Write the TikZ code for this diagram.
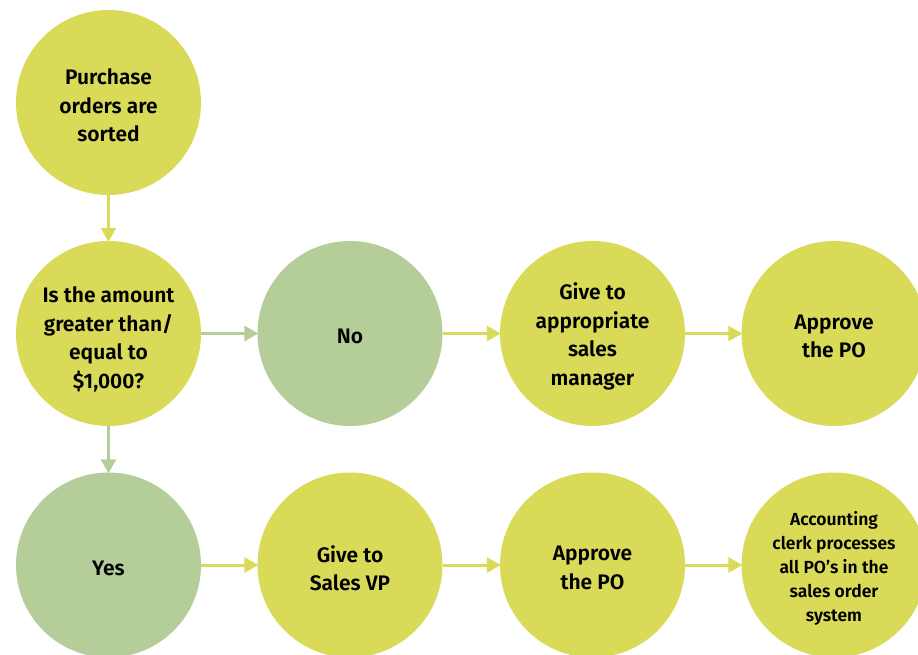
\documentclass[tikz,border=0pt]{standalone}
\usepackage{fontspec}
\setmainfont{Fira Sans}[UprightFont=* SemiBold]
\usetikzlibrary{arrows.meta}
\definecolor{cyel}{HTML}{D9DA57}
\definecolor{cgrn}{HTML}{B5CD99}
\tikzset{
  bub/.style={circle, minimum size=185pt, inner sep=0pt},
  ybub/.style={bub, fill=cyel},
  gbub/.style={bub, fill=cgrn},
  txt/.style={align=center, font=\fontsize{21}{28.5}\selectfont, text=black, yshift=-3pt},
  arr/.style={line width=3pt, -{Triangle[length=14pt,width=15pt]}, shorten >=-1pt},
  yarr/.style={arr, draw=cyel, cyel},
  garr/.style={arr, draw=cgrn, cgrn}
}
\begin{document}
\begin{tikzpicture}[x=1pt,y=-1pt]
\useasboundingbox (0,0) rectangle (918,655);
\begin{scope}
\clip (0,0) rectangle (918,655);
\node[ybub] (ps) at (108.5,102.5) {};
\node[ybub] (q) at (108.5,333.5) {};
\node[gbub] (no) at (350,333.5) {};
\node[ybub] (gm) at (592.5,333.5) {};
\node[ybub] (a1) at (834,333.5) {};
\node[gbub] (yes) at (108.5,565) {};
\node[ybub] (gv) at (350,565) {};
\node[ybub] (a2) at (592.5,565) {};
\node[ybub] (ac) at (834,565) {};
\end{scope}
\node[txt] (pst) at (ps) {Purchase\\orders are\\sorted};
\node[txt, yshift=-3pt] (qt) at (q) {Is the amount\\greater than/\\equal to\\\$1,000?};
\node[txt] (not) at (no) {No};
\node[txt] (gmt) at (gm) {Give to\\appropriate\\sales\\manager};
\node[txt] (a1t) at (a1) {Approve\\the PO};
\node[txt] (yest) at (yes) {Yes};
\node[txt] (gvt) at (gv) {Give to\\Sales VP};
\node[txt] (a2t) at (a2) {Approve\\the PO};
\node[txt, font=\fontsize{17.5}{24}\selectfont] (act) at (ac) {Accounting\\clerk processes\\all PO’s in the\\sales order\\system};
\draw[yarr] (ps) -- (q);
\draw[garr] (q) -- (no);
\draw[garr] (q) -- (yes);
\draw[yarr] (no) -- (gm);
\draw[yarr] (gm) -- (a1);
\draw[yarr] (yes) -- (gv);
\draw[yarr] (gv) -- (a2);
\draw[yarr] (a2) -- (ac);
\end{tikzpicture}
\end{document}
